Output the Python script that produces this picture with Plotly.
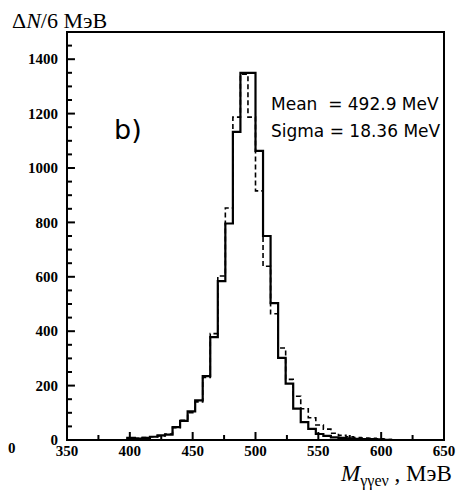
import plotly.graph_objects as go

# Histogram data: 6 MeV bins (left edges, MeV)
bin_left = [392, 398, 404, 410, 416, 422, 428, 434, 440, 446, 452, 458, 464, 470,
            476, 482, 488, 494, 500, 506, 512, 518, 524, 530, 536, 542, 548, 554,
            560, 566, 572, 578, 584, 590, 596, 602, 608]
bin_width = 6
solid_counts = [0, 8, 5, 8, 12, 17, 20, 47, 70, 105, 146, 235, 378, 584,
                796, 1133, 1350, 1350, 1063, 750, 503, 302, 207, 115, 66, 41, 22, 15,
                10, 8, 6, 4, 3, 3, 2, 1, 0]
dashed_counts = [0, 6, 6, 9, 12, 15, 22, 45, 72, 100, 140, 230, 391, 603,
                 853, 1187, 1345, 1187, 916, 639, 464, 338, 223, 161, 115, 82, 55, 40,
                 25, 17, 12, 9, 7, 6, 4, 2, 0]

x_ticks = [350, 400, 450, 500, 550, 600, 650]
x_minor = [375, 425, 475, 525, 575, 625]
y_ticks = [0, 200, 400, 600, 800, 1000, 1200, 1400]
y_minor = [50, 100, 150, 250, 300, 350, 450, 500, 550, 650, 700, 750, 850, 900, 950,
           1050, 1100, 1150, 1250, 1300, 1350, 1450]

edges = bin_left + [bin_left[-1] + bin_width]


def steps(c):
    return c + [c[-1]]


serif = "Liberation Serif, Times New Roman, serif"
sans = "DejaVu Sans, Verdana, sans-serif"

# plot area size in px (used to express tick lengths in paper units)
PW, PH = 379, 408

fig = go.Figure()
fig.add_trace(go.Scatter(x=edges, y=steps(dashed_counts), mode="lines",
                         line=dict(shape="hv", color="black", width=1.6, dash="5px,3px"),
                         showlegend=False, hoverinfo="skip"))
fig.add_trace(go.Scatter(x=edges, y=steps(solid_counts), mode="lines",
                         line=dict(shape="hv", color="black", width=2.2),
                         showlegend=False, hoverinfo="skip"))

tickfont = dict(family=serif, size=15, color="black")

# frame + inside tick marks
shapes = [dict(type="rect", xref="paper", yref="paper", x0=0, x1=1, y0=0, y1=1,
               line=dict(color="black", width=2), layer="above")]
for v in x_ticks:
    shapes.append(dict(type="line", xref="x", yref="paper", x0=v, x1=v, y0=0, y1=8 / PH,
                       line=dict(color="black", width=2), layer="above"))
for v in x_minor:
    shapes.append(dict(type="line", xref="x", yref="paper", x0=v, x1=v, y0=0, y1=5 / PH,
                       line=dict(color="black", width=2), layer="above"))
for v in y_ticks:
    shapes.append(dict(type="line", xref="paper", yref="y", x0=0, x1=8 / PW, y0=v, y1=v,
                       line=dict(color="black", width=2), layer="above"))
for v in y_minor:
    shapes.append(dict(type="line", xref="paper", yref="y", x0=0, x1=5 / PW, y0=v, y1=v,
                       line=dict(color="black", width=2), layer="above"))

# page body has an 8px margin: figure is shifted by 8px right/down
fig.update_layout(
    width=459, height=485,
    margin=dict(l=59, r=21, t=24, b=53),
    paper_bgcolor="white", plot_bgcolor="white",
    xaxis=dict(range=[350, 650], tickvals=x_ticks,
               ticktext=["<b>%d</b>" % v for v in x_ticks], ticks="",
               showgrid=False, zeroline=False, showline=False, tickfont=tickfont),
    yaxis=dict(range=[0, 1500], tickvals=y_ticks,
               ticktext=["<b>%d</b>" % v for v in y_ticks], ticks="",
               ticklabelstandoff=8,
               showgrid=False, zeroline=False, showline=False, tickfont=tickfont),
    shapes=shapes,
)

annotations = [
    dict(text="Δ<i>N</i>/6 МэВ", xref="paper", yref="paper",
         x=(11 - 67) / PW, y=(440 - 20) / PH, xanchor="left", yanchor="middle",
         showarrow=False, borderpad=0, font=dict(family=serif, size=22, color="black")),
    dict(text="<i>M</i><sub>γγeν</sub> , МэВ", xref="paper", yref="paper",
         x=(455 - 67) / PW, y=(440 - 476) / PH, xanchor="right", yanchor="middle",
         showarrow=False, borderpad=0, font=dict(family=serif, size=23, color="black")),
    dict(text="b)", xref="x", yref="y", x=386, y=1143, xanchor="left", yanchor="middle",
         showarrow=False, font=dict(family=sans, size=27, color="black")),
    dict(text="Mean\u00a0\u00a0= 492.9 MeV", xref="x", yref="y", x=511, y=1235,
         xanchor="left", yanchor="middle", showarrow=False,
         font=dict(family=sans, size=17, color="black")),
    dict(text="Sigma = 18.36 MeV", xref="x", yref="y", x=511, y=1135,
         xanchor="left", yanchor="middle", showarrow=False,
         font=dict(family=sans, size=17, color="black")),
    dict(text="<b>0</b>", xref="paper", yref="paper",
         x=(12 - 67) / PW, y=(440 - 448) / PH, xanchor="center", yanchor="middle",
         showarrow=False, font=tickfont),
]
fig.update_layout(annotations=annotations)

fig.write_html("out.html")
